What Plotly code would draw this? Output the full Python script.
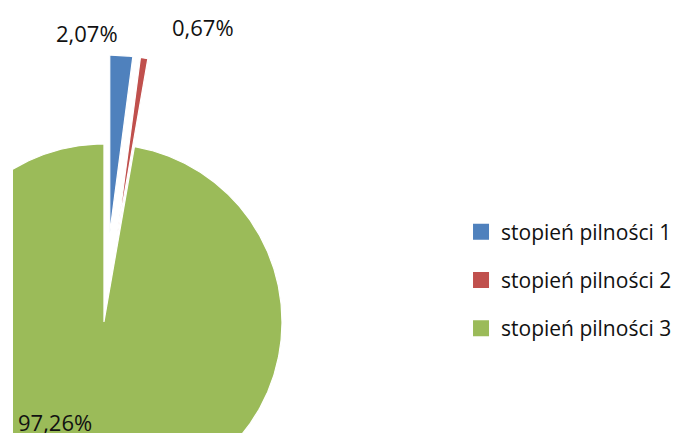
import numpy as np
import plotly.graph_objects as go

labels = ["stopień pilności 1", "stopień pilności 2", "stopień pilności 3"]
values = [2.07, 0.67, 97.26]
colors = ["#4F81BD", "#C0504D", "#9BBB59"]
pulls = [0.5, 0.5, 0.0]

# label placement (data units, pie radius = 1, centre at origin)
label_pos = [(-0.098, 1.624, "center"), (0.559, 1.660, "center"), (-0.495, -0.560, "left")]

fig = go.Figure()
total = float(sum(values))
start = 0.0
for lab, v, c, p in zip(labels, values, colors, pulls):
    a0 = start / total * 2 * np.pi
    a1 = (start + v) / total * 2 * np.pi
    start += v
    mid = (a0 + a1) / 2
    cx, cy = p * np.sin(mid), p * np.cos(mid)
    n = max(int(np.degrees(a1 - a0) * 2), 6)
    t = np.linspace(a0, a1, n)
    xs = np.concatenate([[cx], cx + np.sin(t), [cx]])
    ys = np.concatenate([[cy], cy + np.cos(t), [cy]])
    fig.add_trace(go.Scatter(
        x=xs, y=ys, fill="toself", fillcolor=c, mode="lines",
        line=dict(color="white", width=1.2), showlegend=False, hoverinfo="skip"))

for lab, c in zip(labels, colors):
    fig.add_trace(go.Scatter(
        x=[None], y=[None], mode="markers", name=lab, legendgroup=lab,
        marker=dict(symbol="square", size=16, color=c)))

for v, (lx, ly, anchor) in zip(values, label_pos):
    fig.add_annotation(
        x=lx, y=ly, xref="x", yref="y", showarrow=False, xanchor=anchor,
        text=f"{v:.2f}".replace(".", ",") + "%",
        font=dict(family="Open Sans", size=22, color="#111111"))

fig.update_layout(
    width=677, height=425,
    margin=dict(l=5, r=0, t=0, b=0, pad=0),
    paper_bgcolor="white", plot_bgcolor="white",
    xaxis=dict(range=[-0.511, 3.264], visible=False, fixedrange=True),
    yaxis=dict(range=[-0.624, 1.764], visible=False, fixedrange=True),
    showlegend=True,
    legend=dict(
        x=0.6667, y=0.36, xanchor="left", yanchor="middle",
        font=dict(family="Open Sans", size=21, color="#111111"),
        tracegroupgap=18, bgcolor="rgba(0,0,0,0)"),
    font=dict(family="Open Sans"),
)

fig.write_html("out.html")
